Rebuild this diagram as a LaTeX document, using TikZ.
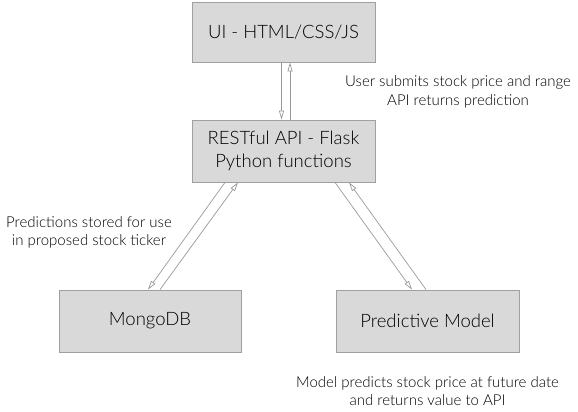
\documentclass[tikz,border=0pt]{standalone}
\usepackage{fontspec}
\setmainfont{Lato Light}
\usetikzlibrary{arrows.meta}
\definecolor{boxfill}{HTML}{D9D9D9}
\definecolor{boxline}{HTML}{A0A0A0}
\definecolor{arrline}{HTML}{999999}
\tikzset{
  box/.style={draw=boxline, fill=boxfill, line width=0.8pt, font=\fontsize{18.5}{23.5}\selectfont, align=center, inner sep=0pt},
  note/.style={font=\fontsize{15}{18.5}\selectfont, align=center, inner sep=0pt},
  flow/.style={-{Triangle[open,length=9pt,width=5pt]}, draw=arrline, line width=0.7pt}
}
\begin{document}
\begin{tikzpicture}[x=1pt,y=-1pt]
\useasboundingbox (0,0) rectangle (578,412);

\node[box, minimum width=183pt, minimum height=60pt] (ui) at (283.5,32) {UI - HTML/CSS/JS};
\node[box, minimum width=183pt, minimum height=62pt] (api) at (283.5,151) {RESTful API - Flask\\Python functions};
\node[box, minimum width=182pt, minimum height=62pt] (mongo) at (150,321) {MongoDB};
\node[box, minimum width=183pt, minimum height=62pt] (model) at (427.5,321) {Predictive Model};

\node[note] (uinote) at (458,92) {User submits stock price and range\\API returns prediction};
\node[note] (mongonote) at (89,232.5) {Predictions stored for use\\in proposed stock ticker};
\node[note] (modelnote) at (427.5,391) {Model predicts stock price at future date\\and returns value to API};

\draw[flow] ([xshift=-2pt]ui.south) -- ([xshift=-2pt]api.north);
\draw[flow] ([xshift=6.5pt]api.north) -- ([xshift=6.5pt]ui.south);
\draw[flow] ([xshift=-58.5pt]api.south) -- ([xshift=-2pt]mongo.north);
\draw[flow] ([xshift=10pt]mongo.north) -- ([xshift=-45.5pt]api.south);
\draw[flow] ([xshift=51.5pt]api.south) -- ([xshift=-15.5pt]model.north);
\draw[flow] ([xshift=-1.5pt]model.north) -- ([xshift=65.5pt]api.south);

\end{tikzpicture}
\end{document}
